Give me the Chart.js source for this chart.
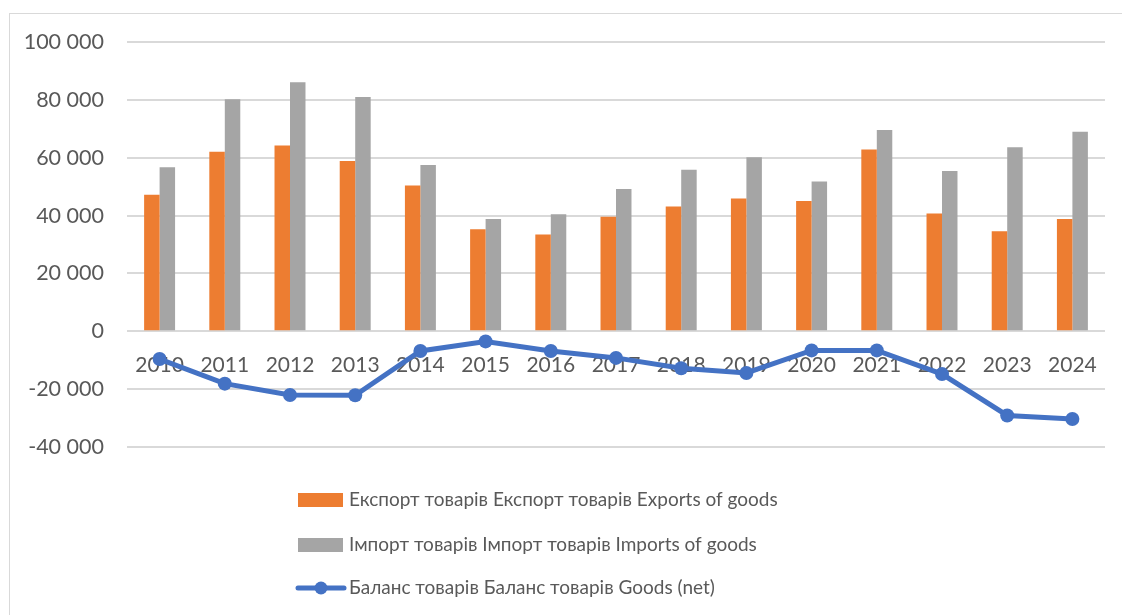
<!DOCTYPE html>
<html>
<head>
<meta charset="utf-8">
<script src="https://cdn.jsdelivr.net/npm/chart.js@4/dist/chart.umd.min.js"></script>
<style>
  html, body { margin: 0; padding: 0; background: #fff; }
  #wrap { width: 1122px; height: 615px; position: relative; }
</style>
</head>
<body>
<div id="wrap"><canvas id="myChart" width="1122" height="615"></canvas></div>
<script>
var years = ['2010', '2011', '2012', '2013', '2014', '2015', '2016', '2017', '2018', '2019', '2020', '2021', '2022', '2023', '2024'];
var exportsGoods = [47200, 62100, 64200, 58900, 50400, 35300, 33500, 39600, 43100, 45900, 45000, 62800, 40700, 34600, 38800];
var importsGoods = [56700, 80200, 86100, 81000, 57500, 38800, 40500, 49200, 55800, 60200, 51800, 69600, 55400, 63600, 69000];
var balanceGoods = [-9600, -18100, -22000, -22100, -6800, -3500, -6800, -9200, -12800, -14400, -6600, -6600, -14800, -29100, -30300];
var seriesNames = [
  'Експорт товарів Експорт товарів Exports of goods',
  'Імпорт товарів Імпорт товарів Imports of goods',
  'Баланс товарів Баланс товарів Goods (net)'
];

var textColor = '#595959';
var fontFamily = 'Lato, "Noto Sans", sans-serif';

// outer frame of the chart
var framePlugin = {
  id: 'frame',
  beforeDraw: function(chart) {
    var ctx = chart.ctx;
    ctx.save();
    ctx.fillStyle = '#fff';
    ctx.fillRect(0, 0, chart.width, chart.height);
    ctx.strokeStyle = '#D9D9D9';
    ctx.lineWidth = 1;
    ctx.strokeRect(9.5, 13.5, chart.width, chart.height);
    ctx.restore();
  }
};

// legend: one entry per row, like the original
var stackedLegend = {
  id: 'stackedLegend',
  afterDraw: function(chart) {
    var ctx = chart.ctx;
    var x0 = 298, rows = [500, 545, 588];
    ctx.save();
    ctx.font = '19px ' + fontFamily;
    ctx.textBaseline = 'middle';
    chart.data.datasets.forEach(function(ds, i) {
      var y = rows[i];
      if (ds.type === 'line') {
        ctx.strokeStyle = ds.borderColor;
        ctx.lineWidth = 5;
        ctx.lineCap = 'round';
        ctx.beginPath();
        ctx.moveTo(x0, y);
        ctx.lineTo(x0 + 46, y);
        ctx.stroke();
        ctx.fillStyle = ds.borderColor;
        ctx.beginPath();
        ctx.arc(x0 + 23, y, 6.5, 0, Math.PI * 2);
        ctx.fill();
      } else {
        ctx.fillStyle = ds.backgroundColor;
        ctx.fillRect(x0, y - 7, 45, 14);
      }
      ctx.fillStyle = textColor;
      ctx.fillText(ds.label, x0 + 51, y);
    });
    ctx.restore();
  }
};

var ctx = document.getElementById('myChart').getContext('2d');
var myChart = new Chart(ctx, {
  data: {
    labels: years,
    datasets: [{
      type: 'bar',
      label: seriesNames[0],
      data: exportsGoods,
      backgroundColor: '#ED7D31',
      order: 1
    }, {
      type: 'bar',
      label: seriesNames[1],
      data: importsGoods,
      backgroundColor: '#A5A5A5',
      order: 1
    }, {
      type: 'line',
      label: seriesNames[2],
      data: balanceGoods,
      borderColor: '#4472C4',
      backgroundColor: '#4472C4',
      borderWidth: 5,
      pointRadius: 7,
      pointBorderWidth: 0,
      pointBackgroundColor: '#4472C4',
      tension: 0,
      order: 0
    }]
  },
  options: {
    responsive: false,
    animation: false,
    devicePixelRatio: 1,
    layout: { padding: { top: 42, right: 17, bottom: 168, left: 0 } },
    datasets: {
      bar: { categoryPercentage: 0.475, barPercentage: 1.0 }
    },
    plugins: {
      legend: { display: false },
      tooltip: { enabled: false }
    },
    scales: {
      x: {
        position: { y: 0 },
        grid: { display: false },
        border: { display: false },
        ticks: {
          color: textColor,
          font: { family: fontFamily, size: 21 },
          padding: 13,
          maxRotation: 0,
          autoSkip: false
        }
      },
      y: {
        min: -40000,
        max: 100000,
        afterFit: function(scale) { scale.width = 127; },
        grid: { color: '#D9D9D9', lineWidth: 2, drawTicks: false },
        border: { display: false },
        ticks: {
          stepSize: 20000,
          padding: 23,
          color: textColor,
          font: { family: fontFamily, size: 21.5 },
          callback: function(v) {
            var s = Math.abs(v).toString().replace(/\B(?=(\d{3})+(?!\d))/g, ' ');
            return (v < 0 ? '-' : '') + s;
          }
        }
      }
    }
  },
  plugins: [framePlugin, stackedLegend]
});
</script>
</body>
</html>
